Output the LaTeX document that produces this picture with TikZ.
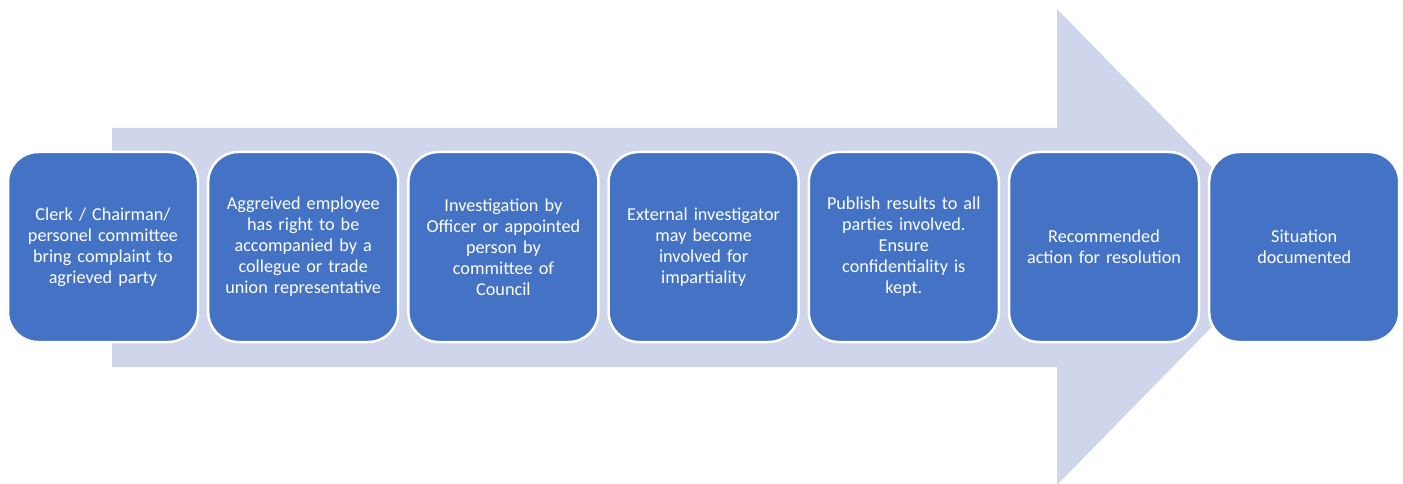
\documentclass[tikz,border=0pt]{standalone}
\usepackage{fontspec}
\setmainfont{Carlito}
\definecolor{boxblue}{HTML}{4472C4}
\definecolor{arrowgrey}{HTML}{CFD5EA}
\tikzset{stepbox/.style={draw=white,line width=2.5pt,fill=boxblue,rounded corners=30pt,
  minimum width=190pt,minimum height=190pt,text width=174pt,align=center,text=white,
  font=\fontsize{18.2}{21}\selectfont}}
\begin{document}
\begin{tikzpicture}[x=1pt,y=-1pt,line join=round]
	\useasboundingbox (0,0) rectangle (1403,484);
	% big arrow behind the steps
	\fill[arrowgrey] (112,128)--(1057,128)--(1057,9)--(1290,247)--(1057,485)--(1057,367)--(112,367)--cycle;
	\foreach \t [count=\i] in {{Clerk / Chairman/\\ personel committee\\ bring complaint to\\ agrieved party},
		{Aggreived employee\\ has right to be\\ accompanied by a\\ collegue or trade\\ union representative},
		{Investigation by\\ Officer or appointed\\ person by\\ committee of\\ Council},
		{External investigator\\ may become\\ involved for\\ impartiality},
		{Publish results to all\\ parties involved.\\ Ensure\\ confidentiality is\\ kept.},
		{Recommended\\ action for resolution},
		{Situation\\ documented}}
	{\node[stepbox] (step\i) at ({103+200.2*(\i-1)},247) {\t};}
\end{tikzpicture}
\end{document}
